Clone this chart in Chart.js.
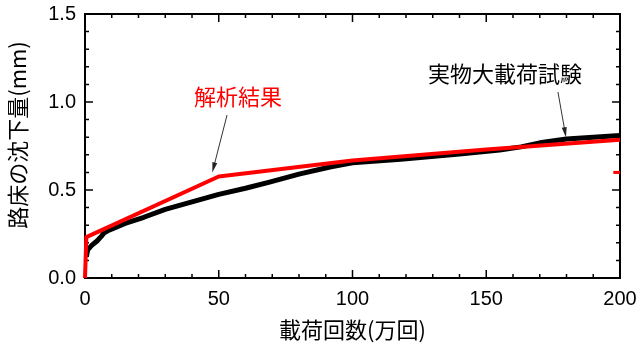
<!DOCTYPE html>
<html>
<head>
<meta charset="utf-8">
<script src="https://cdn.jsdelivr.net/npm/chart.js@4"></script>
<style>
  html, body { margin: 0; padding: 0; background: #fff; }
  #wrap { width: 640px; height: 345px; }
</style>
</head>
<body>
<div id="wrap"><canvas id="settle"></canvas></div>
<script>
"use strict";

// load cycles (10^4) and settlement of subgrade (mm)
const testX = [0.5, 1, 2.5, 4.5, 6, 7, 9, 15, 22, 30, 37, 50, 60, 69, 80, 92, 100, 118, 140, 155, 163, 170, 180, 200];
const testY = [0.12, 0.16, 0.185, 0.21, 0.235, 0.255, 0.272, 0.31, 0.345, 0.39, 0.42, 0.475, 0.51, 0.545, 0.59, 0.632, 0.655, 0.675, 0.705, 0.727, 0.745, 0.768, 0.79, 0.81];

const calcX = [0, 0.5, 50, 100, 150, 200];
const calcY = [0, 0.232, 0.577, 0.668, 0.73, 0.786];

const stubX = [197.5, 200];
const stubY = [0.6, 0.6];

const xTicks = [0, 50, 100, 150, 200];
const yTicks = [0, 0.5, 1.0, 1.5];
const xMinor = [10, 20, 30, 40, 60, 70, 80, 90, 110, 120, 130, 140, 160, 170, 180, 190];
const yMinor = [0.1, 0.2, 0.3, 0.4, 0.6, 0.7, 0.8, 0.9, 1.1, 1.2, 1.3, 1.4];

const yTitle = '路床の沈下量(mm)';

// callouts: label position and arrow (from -> to) in data units
const calcLabel = { text: '解析結果', x: 57.2, y: 1.028, from: [53.1, 0.926], to: [47.6, 0.6] };
const testLabel = { text: '実物大載荷試験', x: 157, y: 1.159, from: [176.8, 1.057], to: [179.8, 0.8] };

const pts = (xs, ys) => xs.map((x, i) => ({ x: x, y: ys[i] }));

const JP = '"Noto Sans CJK JP", sans-serif';
const NUM = '"Liberation Sans", Arial, sans-serif';

const framePlugin = {
    id: 'frame',
    beforeDatasetsDraw(chart) {
        const { ctx, chartArea: a, scales: { x, y } } = chart;
        ctx.save();
        ctx.strokeStyle = '#000';
        ctx.lineWidth = 1.5;
        ctx.beginPath();
        const tick = (vals, len) => {
            vals.forEach(v => {
                const px = x.getPixelForValue(v);
                ctx.moveTo(px, a.bottom); ctx.lineTo(px, a.bottom - len);
                ctx.moveTo(px, a.top); ctx.lineTo(px, a.top + len);
            });
        };
        const tickY = (vals, len) => {
            vals.forEach(v => {
                const py = y.getPixelForValue(v);
                ctx.moveTo(a.left, py); ctx.lineTo(a.left + len, py);
                ctx.moveTo(a.right, py); ctx.lineTo(a.right - len, py);
            });
        };
        tick(xTicks, 8);
        tick(xMinor, 4);
        tickY(yTicks, 8);
        tickY(yMinor, 4);
        ctx.stroke();
        ctx.lineWidth = 2;
        ctx.strokeRect(a.left, a.top, a.right - a.left, a.bottom - a.top);

        // y axis title, rotated
        ctx.translate(18, 135);
        ctx.rotate(-Math.PI / 2);
        ctx.font = '22px ' + JP;
        ctx.fillStyle = '#000';
        ctx.textAlign = 'center';
        ctx.textBaseline = 'middle';
        ctx.fillText(yTitle, 0, 0);
        ctx.restore();
    },
    afterDraw(chart) {
        const { ctx, scales: { x, y } } = chart;
        const callout = (c, color) => {
            ctx.save();
            ctx.font = '22px ' + JP;
            ctx.fillStyle = color;
            ctx.textAlign = 'center';
            ctx.textBaseline = 'middle';
            ctx.fillText(c.text, x.getPixelForValue(c.x), y.getPixelForValue(c.y));
            const x0 = x.getPixelForValue(c.from[0]), y0 = y.getPixelForValue(c.from[1]);
            const x1 = x.getPixelForValue(c.to[0]), y1 = y.getPixelForValue(c.to[1]);
            const ang = Math.atan2(y1 - y0, x1 - x0);
            ctx.strokeStyle = '#333';
            ctx.fillStyle = '#222';
            ctx.lineWidth = 1;
            ctx.beginPath();
            ctx.moveTo(x0, y0);
            ctx.lineTo(x1 - 8 * Math.cos(ang), y1 - 8 * Math.sin(ang));
            ctx.stroke();
            ctx.beginPath();
            ctx.moveTo(x1, y1);
            ctx.lineTo(x1 - 10 * Math.cos(ang) + 2.5 * Math.sin(ang), y1 - 10 * Math.sin(ang) - 2.5 * Math.cos(ang));
            ctx.lineTo(x1 - 10 * Math.cos(ang) - 2.5 * Math.sin(ang), y1 - 10 * Math.sin(ang) + 2.5 * Math.cos(ang));
            ctx.closePath();
            ctx.fill();
            ctx.restore();
        };
        callout(calcLabel, '#ff0000');
        callout(testLabel, '#000000');
    }
};

new Chart(document.getElementById('settle'), {
    type: 'scatter',
    data: {
        datasets: [
            {
                label: '解析結果',
                data: pts(calcX, calcY),
                showLine: true,
                borderColor: '#ff0000',
                borderWidth: 4,
                pointRadius: 0,
                borderJoinStyle: 'round',
                clip: 5,
                order: 0
            },
            {
                label: '解析結果(端部)',
                data: pts(stubX, stubY),
                showLine: true,
                borderColor: '#ff0000',
                borderWidth: 3,
                pointRadius: 0,
                clip: 5,
                order: 0
            },
            {
                label: '実物大載荷試験',
                data: pts(testX, testY),
                showLine: true,
                borderColor: '#000000',
                borderWidth: 5,
                pointRadius: 0,
                borderJoinStyle: 'round',
                clip: 5,
                order: 1
            }
        ]
    },
    options: {
        responsive: true,
        maintainAspectRatio: false,
        animation: false,
        layout: { padding: { top: 14, right: 20, left: 0, bottom: 0 } },
        plugins: {
            legend: { display: false },
            tooltip: { enabled: false }
        },
        scales: {
            x: {
                type: 'linear',
                min: 0,
                max: 200,
                afterBuildTicks: s => { s.ticks = xTicks.map(v => ({ value: v })); },
                afterFit: s => { s.height = 67; s.paddingLeft = 0; s.paddingRight = 0; },
                grid: { display: false, drawTicks: false },
                border: { display: false },
                ticks: {
                    color: '#000',
                    padding: 9,
                    maxRotation: 0,
                    font: { family: NUM, size: 20 }
                },
                title: {
                    display: true,
                    text: '載荷回数(万回)',
                    color: '#000',
                    font: { family: JP, size: 22 },
                    padding: { top: 0, bottom: 2 }
                }
            },
            y: {
                type: 'linear',
                min: 0,
                max: 1.5,
                afterBuildTicks: s => { s.ticks = yTicks.map(v => ({ value: v })); },
                afterFit: s => { s.width = 85; s.paddingTop = 0; s.paddingBottom = 0; },
                grid: { display: false, drawTicks: false },
                border: { display: false },
                ticks: {
                    color: '#000',
                    padding: 9,
                    font: { family: NUM, size: 20 },
                    callback: v => v.toFixed(1)
                }
            }
        }
    },
    plugins: [framePlugin]
});
</script>
</body>
</html>
